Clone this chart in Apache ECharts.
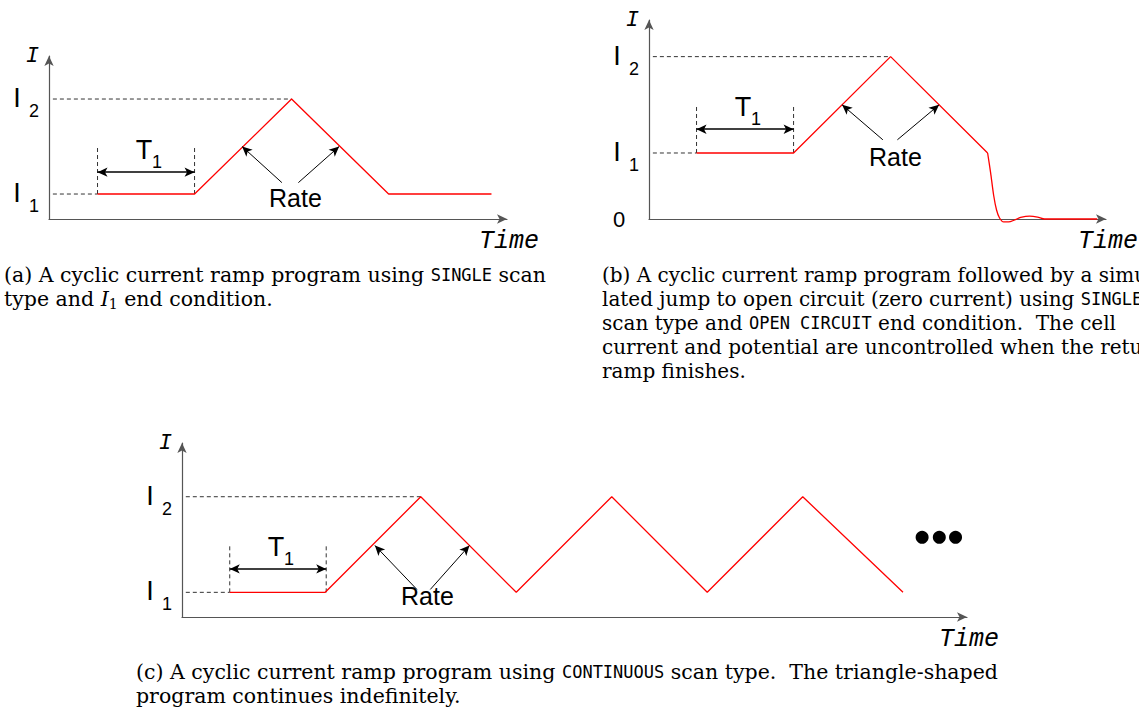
<!DOCTYPE html>
<html>
<head>
<meta charset="utf-8">
<title>Cyclic current ramp programs</title>
<script src="https://cdn.jsdelivr.net/npm/echarts@6/dist/echarts.min.js"></script>
<style>
  html, body { margin: 0; padding: 0; background: #fff; }
  #chart { width: 1139px; height: 707px; }
</style>
</head>
<body>
<div id="chart"></div>
<script>
// schematic units: time in ramp segments (T1 = 1), current with I1 = 1

// (a) SINGLE scan, I1 end condition
const aRampX = [0.5, 1.5, 2.5, 3.5, 4.56]
const aRampY = [1, 1, 2, 1, 1]
const aLevels = [1, 2]
const aLevelSubs = ['1', '2']
const aT1 = [0.5, 1.5]
const aT1Top = 1.49
const aT1Arrow = 1.23
const aRateTips = [[1.99, 1.5], [2.99, 1.5]]
const aRateTails = [[2.40, 1.12], [2.57, 1.12]]
const aRateAt = [2.54, 0.96]

// (b) SINGLE scan, OPEN CIRCUIT end condition
const bRampX = [0.49, 1.49, 2.49, 3.49]
const bRampY = [1, 1, 2.46, 1]
const bTailX = [3.49, 3.521, 3.552, 3.582, 3.613, 3.655, 3.706, 3.768, 3.83, 3.923, 4.005, 4.077, 4.62]
const bTailY = [1, 0.70, 0.36, 0.136, 0.015, -0.045, -0.045, -0.015, 0.023, 0.045, 0.03, 0, 0]
const bLevels = [1, 2.46]
const bLevelSubs = ['1', '2']
const bT1 = [0.49, 1.49]
const bT1Top = 1.73
const bT1Arrow = 1.36
const bRateTips = [[1.99, 1.73], [2.99, 1.73]]
const bRateTails = [[2.41, 1.2], [2.56, 1.2]]
const bRateAt = [2.54, 0.94]

// (c) CONTINUOUS scan
const cRampX = [0.5, 1.5, 2.5, 3.5, 4.5, 5.5, 6.5, 7.55]
const cRampY = [1, 1, 2, 1, 2, 1, 2, 1]
const cLevels = [1, 2]
const cLevelSubs = ['1', '2']
const cT1 = [0.5, 1.51]
const cT1Top = 1.49
const cT1Arrow = 1.245
const cRateTips = [[2.02, 1.49], [3.01, 1.49]]
const cRateTails = [[2.46, 1.03], [2.6, 1.03]]
const cRateAt = [2.57, 0.96]
const cDotsX = [7.75, 7.93, 8.10]
const cDotsY = 1.575

const captionA = [
  '(a) A cyclic current ramp program using {tt|SINGLE} scan',
  'type and {it|I}{sub|1} end condition.'
]
const captionB = [
  '(b) A cyclic current ramp program followed by a simu-',
  'lated jump to open circuit (zero current) using {tt|SINGLE}',
  'scan type and {tt|OPEN CIRCUIT} end condition.  The cell',
  'current and potential are uncontrolled when the return',
  'ramp finishes.'
]
const captionC = [
  '(c) A cyclic current ramp program using {tt|CONTINUOUS} scan type.  The triangle-shaped',
  'program continues indefinitely.'
]

const RED = '#ff0000'
const INK = '#000'
const AXIS = '#555'
const SANS = 'Liberation Sans'
const MONO = 'Liberation Mono'
const SERIF = 'DejaVu Serif'

const zip = (xs, ys) => xs.map((x, i) => [x, ys[i]])

const panels = [
  { grid: { left: 49, top: 56, width: 458, height: 163 }, xMax: 4.72, yMin: 0.737, yMax: 2.453,
    rampX: aRampX, rampY: aRampY, levels: aLevels, subs: aLevelSubs, peakX: 2.5, zeroLabel: false,
    t1: aT1, t1Top: aT1Top, t1Arrow: aT1Arrow, tips: aRateTips, tails: aRateTails, rateAt: aRateAt },
  { grid: { left: 649, top: 20, width: 457, height: 199 }, xMax: 4.71, yMin: 0, yMax: 3.015,
    rampX: bRampX, rampY: bRampY, levels: bLevels, subs: bLevelSubs, peakX: 2.49, zeroLabel: true,
    t1: bT1, t1Top: bT1Top, t1Arrow: bT1Arrow, tips: bRateTips, tails: bRateTails, rateAt: bRateAt },
  { grid: { left: 182, top: 443, width: 785, height: 174 }, xMax: 8.22, yMin: 0.742, yMax: 2.562,
    rampX: cRampX, rampY: cRampY, levels: cLevels, subs: cLevelSubs, peakX: 2.5, zeroLabel: false,
    t1: cT1, t1Top: cT1Top, t1Arrow: cT1Arrow, tips: cRateTips, tails: cRateTails, rateAt: cRateAt }
]

function axisLine() {
  return { show: true, onZero: false, symbol: ['none', 'arrow'], symbolSize: [7, 10],
    lineStyle: { color: AXIS, width: 1.2 } }
}

function dashed(k, a, b) {
  return { type: 'line', xAxisIndex: k, yAxisIndex: k, data: [a, b], symbol: 'none', silent: true, clip: false,
    lineStyle: { color: '#333', width: 1, type: [4, 3] }, z: 2 }
}

function textMark(at, text, off, size) {
  return { value: at, label: { show: true, position: 'inside', formatter: text, offset: off,
    fontSize: size, fontFamily: SANS, color: INK, textBorderWidth: 0 } }
}

const xAxis = [], yAxis = [], series = []

panels.forEach((p, k) => {
  xAxis.push({ gridIndex: k, type: 'value', min: 0, max: p.xMax, axisLine: axisLine(),
    axisTick: { show: false }, axisLabel: { show: false }, splitLine: { show: false },
    name: 'Time', nameLocation: 'end', nameGap: 0,
    nameTextStyle: { fontFamily: MONO, fontStyle: 'italic', fontSize: 25, color: INK,
      align: 'center', verticalAlign: 'top', padding: [10, 0, 0, 4] } })
  yAxis.push({ gridIndex: k, type: 'value', min: p.yMin, max: p.yMax, axisLine: axisLine(),
    axisTick: { show: false }, axisLabel: { show: false }, splitLine: { show: false },
    name: 'I', nameLocation: 'end', nameGap: 0,
    nameTextStyle: { fontFamily: MONO, fontStyle: 'italic', fontSize: 22, color: INK,
      align: 'right', verticalAlign: 'middle', padding: [4, 10, 0, 0] } })

  // current program
  series.push({ type: 'line', xAxisIndex: k, yAxisIndex: k, data: zip(p.rampX, p.rampY), symbol: 'none',
    silent: true, clip: false, z: 3, lineStyle: { color: RED, width: 1.3 },
    markLine: { silent: true, symbol: ['none', 'arrow'], symbolSize: [7, 10], label: { show: false },
      lineStyle: { color: INK, width: 1, type: 'solid' },
      data: [
        [{ coord: p.tails[0] }, { coord: p.tips[0] }],
        [{ coord: p.tails[1] }, { coord: p.tips[1] }],
        [{ coord: [p.t1[0], p.t1Arrow], symbol: 'arrow', lineStyle: { width: 1.6 } },
         { coord: [p.t1[1], p.t1Arrow], symbol: 'arrow', lineStyle: { width: 1.6 } }]
      ] } })

  // guide lines to the current levels and T1 markers
  const lo = p.levels[0], hi = p.levels[1]
  series.push(dashed(k, [0.04, hi], [p.peakX, hi]))
  series.push(dashed(k, [0.04, lo], [p.rampX[0], lo]))
  series.push(dashed(k, [p.t1[0], lo], [p.t1[0], p.t1Top]))
  series.push(dashed(k, [p.t1[1], lo], [p.t1[1], p.t1Top]))

  // labels
  const mid = (p.t1[0] + p.t1[1]) / 2
  const labels = []
  p.levels.forEach((v, i) => {
    labels.push(textMark([0, v], 'I', [-32, -1], 27))
    labels.push(textMark([0, v], p.subs[i], [-15, 12], 18))
  })
  if (p.zeroLabel) labels.push(textMark([0, 0], '0', [-30, 0], 22))
  labels.push(textMark([mid, p.t1Arrow], 'T', [-2, -22], 27))
  labels.push(textMark([mid, p.t1Arrow], '1', [11, -10], 18))
  labels.push(textMark(p.rateAt, 'Rate', [0, 0], 25))
  series.push({ type: 'scatter', xAxisIndex: k, yAxisIndex: k, symbolSize: 0, silent: true, clip: false, z: 5,
    itemStyle: { opacity: 1 }, data: labels })
})

// open-circuit relaxation in (b)
series.push({ type: 'line', xAxisIndex: 1, yAxisIndex: 1, data: zip(bTailX, bTailY), symbol: 'none',
  smooth: 0.25, silent: true, clip: false, z: 3, lineStyle: { color: RED, width: 1.3 } })

// "continues" dots in (c)
series.push({ type: 'scatter', xAxisIndex: 2, yAxisIndex: 2, symbol: 'circle', symbolSize: 13, silent: true,
  itemStyle: { color: INK, opacity: 1 }, data: cDotsX.map(x => [x, cDotsY]) })

function captionStyle(size) {
  return {
    fontFamily: SERIF, fontSize: size, fontWeight: 'normal', color: INK, lineHeight: 24,
    rich: {
      tt: { fontFamily: 'DejaVu Sans Mono', fontSize: 17, color: INK, lineHeight: 24 },
      it: { fontFamily: SERIF, fontStyle: 'italic', fontSize: size, color: INK, lineHeight: 24 },
      sub: { fontFamily: SERIF, fontSize: 14, color: INK, lineHeight: 14, verticalAlign: 'bottom' }
    }
  }
}

const chart = echarts.init(document.getElementById('chart'), null, { renderer: 'svg' })
chart.setOption({
  backgroundColor: '#fff',
  animation: false,
  title: [
    { text: captionA.join('\n'), left: 4, top: 263, padding: 0, textStyle: captionStyle(20.5) },
    { text: captionB.join('\n'), left: 602, top: 263, padding: 0, textStyle: captionStyle(20) },
    { text: captionC.join('\n'), left: 136, top: 660, padding: 0, textStyle: captionStyle(20.5) }
  ],
  grid: panels.map(p => Object.assign({ containLabel: false }, p.grid)),
  xAxis,
  yAxis,
  series
})
</script>
</body>
</html>
